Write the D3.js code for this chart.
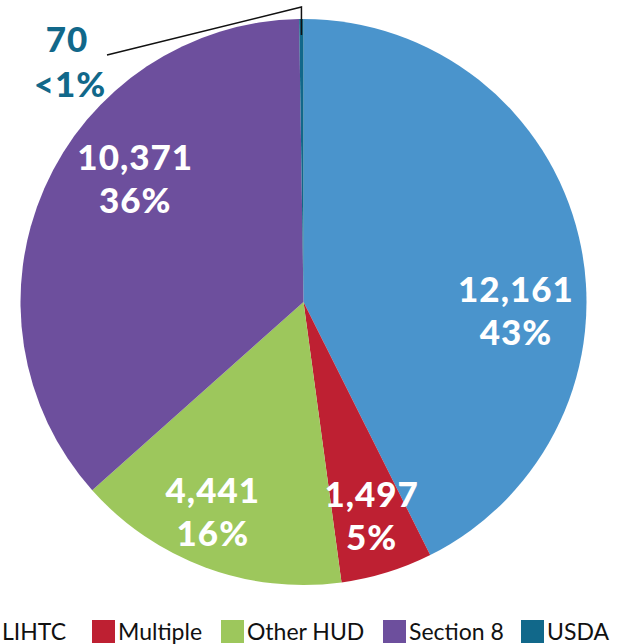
<!DOCTYPE html>
<html>

<head>
	<meta charset="utf-8">
	<script src="https://cdn.jsdelivr.net/npm/d3@7"></script>
	<style>
		body {
			margin: 0;
			background: white;
		}

		.label {
			font-family: Lato, sans-serif;
			font-weight: 900;
			font-size: 35px;
			letter-spacing: 1px;
			text-anchor: middle;
		}

		.legend text {
			font-family: Lato, sans-serif;
			font-size: 23px;
			fill: #111;
		}
	</style>
</head>

<body>
	<svg></svg>
	<script>
		var width = 623;
		var height = 644;

		// data
		var categories = ["LIHTC", "Multiple", "Other HUD", "Section 8", "USDA"];
		var counts = [12161, 1497, 4441, 10371, 70];
		var shares = ["43%", "5%", "16%", "36%", "<1%"];
		var colors = ["#4a94cc", "#be2032", "#9dc75c", "#6d4f9d", "#11688a"];

		var cx = 303.5, cy = 302, radius = 283;

		var svg = d3.select("svg")
			.attr("width", width)
			.attr("height", height);

		var pie = d3.pie().sort(null).value(d => d.count);
		var arc = d3.arc().innerRadius(0).outerRadius(radius);

		var rows = categories.map((c, i) => ({ name: c, count: counts[i], share: shares[i], color: colors[i] }));
		var arcs = pie(rows);

		var g = svg.append("g").attr("transform", "translate(" + cx + "," + cy + ")");

		g.selectAll("path")
			.data(arcs)
			.enter()
			.append("path")
			.attr("d", arc)
			.style("fill", d => d.data.color);

		// label placement: fraction of radius and angle offset (degrees) from slice middle
		var labelPos = {
			"LIHTC": [0.754, 18.7],
			"Multiple": [0.83, 0.3],
			"Other HUD": [0.845, 2],
			"Section 8": [0.714, 9.9]
		};
		var fmt = d3.format(",");

		arcs.forEach(function (d) {
			var p = labelPos[d.data.name];
			if (!p) return;
			var a = (d.startAngle + d.endAngle) / 2 + p[1] * Math.PI / 180;
			var x = Math.sin(a) * radius * p[0];
			var y = -Math.cos(a) * radius * p[0];
			var t = g.append("text").attr("class", "label").style("fill", "white");
			t.append("tspan").attr("x", x).attr("y", y - 20).text(fmt(d.data.count));
			t.append("tspan").attr("x", x).attr("y", y + 23).text(d.data.share);
		});

		// USDA call-out with leader line
		var usda = arcs[4];
		var ua = (usda.startAngle + usda.endAngle) / 2;
		var ux = cx + Math.sin(ua) * (radius - 16);
		var uy = cy - Math.cos(ua) * (radius - 16);
		svg.append("polyline")
			.attr("points", [[ux, uy], [ux, 7], [107, 55]].map(p => p.join(",")).join(" "))
			.style("fill", "none")
			.style("stroke", "#111")
			.style("stroke-width", 1.5);
		var ut = svg.append("text").attr("class", "label").style("fill", usda.data.color);
		ut.append("tspan").attr("x", 67).attr("y", 52).text(fmt(usda.data.count));
		ut.append("tspan").attr("x", 70).attr("y", 97).text(usda.data.share);

		// legend along the bottom
		var legendX = [-24, 92, 221, 383, 521];
		var legend = svg.append("g").attr("class", "legend");
		var items = legend.selectAll("g")
			.data(rows)
			.enter()
			.append("g")
			.attr("transform", (d, i) => "translate(" + legendX[i] + ",620)");
		items.append("rect")
			.attr("width", 23)
			.attr("height", 23)
			.style("fill", d => d.color);
		items.append("text")
			.attr("x", 26)
			.attr("y", 20)
			.text(d => d.name);
	</script>
</body>

</html>
